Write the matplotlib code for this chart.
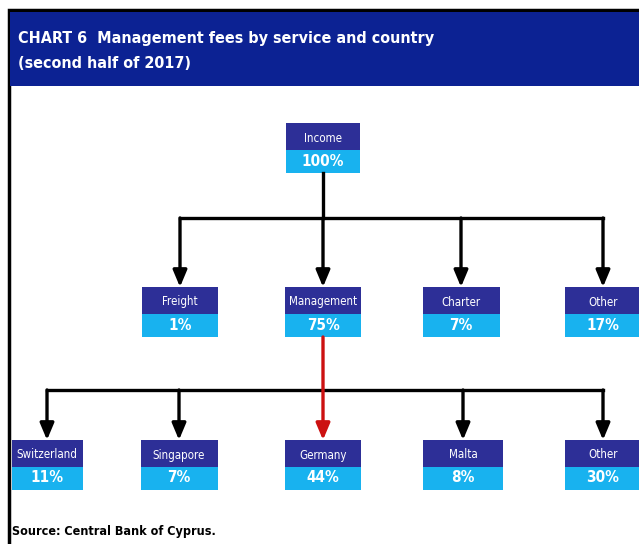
import matplotlib.pyplot as plt
from matplotlib.patches import Rectangle
from matplotlib import font_manager

# tree data
root_label = "Income"
root_value = "100%"
service_labels = ["Freight", "Management", "Charter", "Other"]
service_values = ["1%", "75%", "7%", "17%"]
country_labels = ["Switzerland", "Singapore", "Germany", "Malta", "Other"]
country_values = ["11%", "7%", "44%", "8%", "30%"]

title = "CHART 6  Management fees by service and country\n(second half of 2017)"
source = "Source: Central Bank of Cyprus."

DARK = "#2d2f97"
LIGHT = "#18b2ef"
NAVY = "#0c2293"

names = {f.name for f in font_manager.fontManager.ttflist}
NARROW = "Liberation Sans Narrow" if "Liberation Sans Narrow" in names else "DejaVu Sans"
STRETCH = "condensed"

fig = plt.figure(figsize=(6.39, 5.44), dpi=100)
ax = fig.add_axes([0, 0, 1, 1])
ax.set_xlim(0, 639)
ax.set_ylim(544, 0)
ax.axis("off")

# frame + banner
ax.add_patch(Rectangle((9, 10), 640, 600, facecolor="white", edgecolor="black", lw=2.5))
ax.add_patch(Rectangle((10, 12), 640, 74, facecolor=NAVY, edgecolor="none"))
ax.text(18, 51, title, color="white", fontsize=11.5, fontweight="bold",
        family=NARROW, stretch=STRETCH, va="center", ha="left", linespacing=1.8)
ax.text(12, 532, source, color="black", fontsize=9, fontweight="bold",
        family=NARROW, stretch=STRETCH, va="center", ha="left")


def box(cx, top, w, label, value):
    ax.add_patch(Rectangle((cx - w / 2, top), w, 27, facecolor=DARK, edgecolor="none"))
    ax.add_patch(Rectangle((cx - w / 2, top + 27), w, 23, facecolor=LIGHT, edgecolor="none"))
    ax.text(cx, top + 15, label, color="white", fontsize=8.3, family=NARROW,
            stretch=STRETCH, ha="center", va="center")
    ax.text(cx, top + 38, value, color="white", fontsize=11, fontweight="bold",
            family=NARROW, stretch=STRETCH, ha="center", va="center")


def arrow(x, y0, y1, color="black"):
    ax.annotate("", xy=(x, y1), xytext=(x, y0),
                arrowprops=dict(arrowstyle="-|>,head_width=0.42,head_length=1.0",
                                color=color, lw=2.4, shrinkA=0, shrinkB=0))


# level 1
root_x = 323
box(root_x, 123, 74, root_label, root_value)

# level 2
svc_x = [180, 323, 461, 603]
svc_w = [76, 76, 77, 76]
bar1 = 218
ax.plot([root_x, root_x], [173, bar1], color="black", lw=2.4)
ax.plot([svc_x[0], svc_x[-1]], [bar1, bar1], color="black", lw=2.4, solid_capstyle="projecting")
for x, w, lab, val in zip(svc_x, svc_w, service_labels, service_values):
    arrow(x, bar1, 287)
    box(x, 287, w, lab, val)

# level 3
cty_x = [47, 179, 323, 463, 603]
cty_w = [71, 77, 76, 80, 76]
bar2 = 390
ax.plot([cty_x[0], cty_x[-1]], [bar2, bar2], color="black", lw=2.4, solid_capstyle="projecting")
arrow(root_x, 337, 440, color="#cc1111")
for x, w, lab, val in zip(cty_x, cty_w, country_labels, country_values):
    if x != root_x:
        arrow(x, bar2, 440)
    box(x, 440, w, lab, val)

fig.savefig("out.png", dpi=100)
